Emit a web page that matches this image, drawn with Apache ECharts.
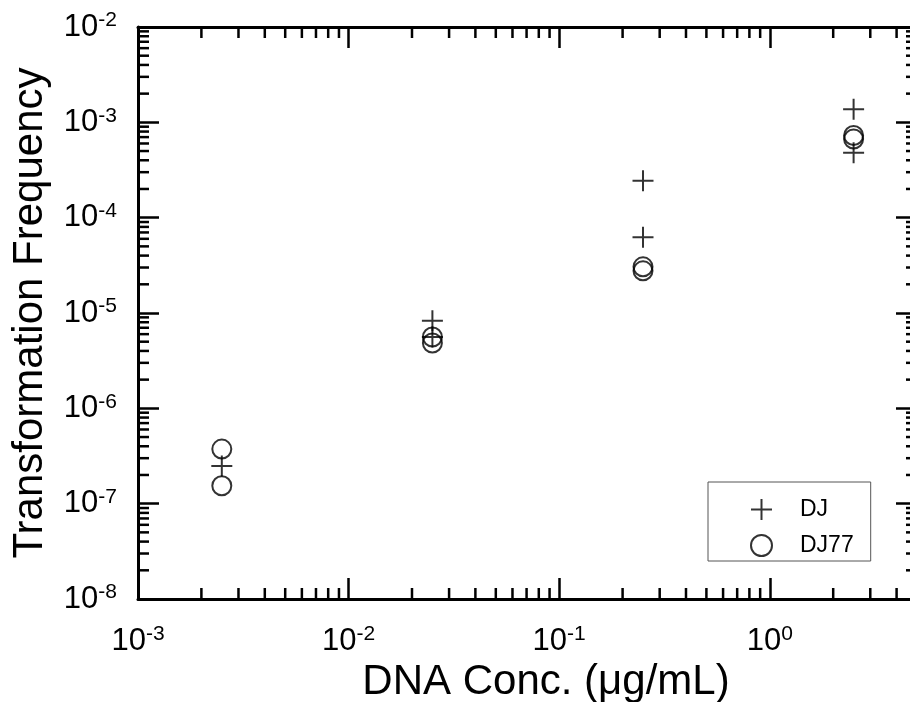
<!DOCTYPE html>
<html>
<head>
<meta charset="utf-8">
<title>Transformation Frequency vs DNA Concentration</title>
<script src="https://cdn.jsdelivr.net/npm/echarts@6/dist/echarts.min.js"></script>
<style>
  html, body { margin: 0; padding: 0; background: #ffffff; }
  #chart { width: 910px; height: 702px; }
</style>
</head>
<body>
<div id="chart"></div>
<script>
// DNA concentrations (µg/mL) and measured transformation frequencies
const dnaConc = [0.0025, 0.025, 0.25, 2.5];
const djFreq = [
  [2.48e-7],
  [8.3e-6, 5.6e-6],
  [2.44e-4, 6.22e-5],
  [1.37e-3, 4.8e-4]
];
const dj77Freq = [
  [3.74e-7, 1.54e-7],
  [5.6e-6, 4.84e-6],
  [3.05e-5, 2.77e-5],
  [7.27e-4, 6.68e-4]
];
const seriesNames = ['DJ', 'DJ77'];
const xRange = [1e-3, 5];
const yRange = [1e-8, 1e-2];

const FONT = '"Liberation Sans", Arial, Helvetica, sans-serif';

function toPairs(xs, groups) {
  const out = [];
  xs.forEach((x, i) => groups[i].forEach(y => out.push([x, y])));
  return out;
}

// minor tick positions (2..9 within each decade) inside a range
function minorTicks(range) {
  const vals = [];
  const k0 = Math.floor(Math.log10(range[0]));
  const k1 = Math.ceil(Math.log10(range[1]));
  for (let k = k0; k < k1; k++) {
    for (let m = 2; m <= 9; m++) {
      const v = m * Math.pow(10, k);
      if (v > range[0] && v < range[1]) vals.push(v);
    }
  }
  return vals;
}

function powerLabel(v) {
  const e = Math.log10(v);
  if (Math.abs(e - Math.round(e)) > 1e-6) return '';
  return '{b|10}{s|' + Math.round(e) + '}';
}

const labelRich = {
  b: { fontSize: 31, lineHeight: 34, fontFamily: FONT, color: '#000' },
  s: { fontSize: 21, lineHeight: 22, verticalAlign: 'top', fontFamily: FONT, color: '#000' }
};

const MINOR_LEN = 11;
const MAJOR_LEN = 21;
const TICK_W = 2.5;

const axisCommon = {
  type: 'log',
  logBase: 10,
  axisLine: { show: true, onZero: false, lineStyle: { color: '#000', width: 3 } },
  axisTick: { show: true, inside: true, length: MAJOR_LEN, lineStyle: { color: '#000', width: TICK_W } },
  splitLine: { show: false },
  minorTick: { show: false }
};

const chart = echarts.init(document.getElementById('chart'), null, { renderer: 'canvas' });

const option = {
  backgroundColor: '#ffffff',
  animation: false,
  grid: {
    left: 138, top: 27, width: 779, height: 572,
    containLabel: false,
    outerBoundsMode: 'none'
  },
  legend: {
    data: seriesNames,
    orient: 'vertical',
    left: 708,
    top: 482,
    itemWidth: 21,
    itemHeight: 21,
    itemGap: 13,
    padding: [16, 17, 4, 42],
    borderColor: '#555',
    borderWidth: 1,
    backgroundColor: '#fff',
    textStyle: { fontSize: 23, fontFamily: FONT, color: '#000', padding: [0, 0, 0, 23] }
  },
  xAxis: [
    Object.assign({}, axisCommon, {
      position: 'bottom',
      min: xRange[0], max: xRange[1],
      splitNumber: 4,
      name: 'DNA Conc. (μg/mL)',
      nameLocation: 'middle',
      nameGap: 57,
      nameTextStyle: { fontSize: 42, fontFamily: FONT, color: '#000', padding: [0, 0, 0, 37] },
      axisLabel: { show: true, margin: 25, formatter: powerLabel, rich: labelRich }
    }),
    Object.assign({}, axisCommon, {
      position: 'top',
      min: xRange[0], max: xRange[1],
      splitNumber: 4,
      axisLabel: { show: false }
    })
  ],
  yAxis: [
    Object.assign({}, axisCommon, {
      position: 'left',
      min: yRange[0], max: yRange[1],
      splitNumber: 6,
      name: 'Transformation Frequency',
      nameLocation: 'middle',
      nameGap: 87,
      nameTextStyle: { fontSize: 42, fontFamily: FONT, color: '#000' },
      axisLabel: { show: true, margin: 21, formatter: powerLabel, rich: labelRich }
    }),
    Object.assign({}, axisCommon, {
      position: 'right',
      min: yRange[0], max: yRange[1],
      splitNumber: 6,
      axisLabel: { show: false }
    })
  ],
  series: [
    {
      name: 'DJ',
      type: 'scatter',
      xAxisIndex: 0, yAxisIndex: 0,
      symbol: 'path://M10,0 L10,20 M0,10 L20,10',
      symbolSize: 21,
      itemStyle: { color: 'rgba(0,0,0,0)', borderColor: '#000', borderWidth: 2 },
      data: toPairs(dnaConc, djFreq),
      z: 5
    },
    {
      name: 'DJ77',
      type: 'scatter',
      xAxisIndex: 0, yAxisIndex: 0,
      symbol: 'circle',
      symbolSize: 19,
      itemStyle: { color: 'rgba(0,0,0,0)', borderColor: '#000', borderWidth: 2 },
      data: toPairs(dnaConc, dj77Freq),
      z: 4
    },
    {
      // minor ticks along bottom and top frame
      name: 'xMinor',
      type: 'custom',
      xAxisIndex: 0, yAxisIndex: 0,
      silent: true,
      clip: false,
      data: minorTicks(xRange).map(v => [v, yRange[0]]),
      renderItem: function (params, api) {
        const b = api.coord([api.value(0), yRange[0]]);
        const t = api.coord([api.value(0), yRange[1]]);
        const style = { stroke: '#000', lineWidth: TICK_W };
        return {
          type: 'group',
          children: [
            { type: 'line', shape: { x1: b[0], y1: b[1], x2: b[0], y2: b[1] - MINOR_LEN }, style: style },
            { type: 'line', shape: { x1: t[0], y1: t[1], x2: t[0], y2: t[1] + MINOR_LEN }, style: style }
          ]
        };
      }
    },
    {
      // minor ticks along left and right frame
      name: 'yMinor',
      type: 'custom',
      xAxisIndex: 0, yAxisIndex: 0,
      silent: true,
      clip: false,
      data: minorTicks(yRange).map(v => [xRange[0], v]),
      renderItem: function (params, api) {
        const l = api.coord([xRange[0], api.value(1)]);
        const r = api.coord([xRange[1], api.value(1)]);
        const style = { stroke: '#000', lineWidth: TICK_W };
        return {
          type: 'group',
          children: [
            { type: 'line', shape: { x1: l[0], y1: l[1], x2: l[0] + MINOR_LEN, y2: l[1] }, style: style },
            { type: 'line', shape: { x1: r[0], y1: r[1], x2: r[0] - MINOR_LEN, y2: r[1] }, style: style }
          ]
        };
      }
    }
  ]
};

chart.setOption(option);
</script>
</body>
</html>
